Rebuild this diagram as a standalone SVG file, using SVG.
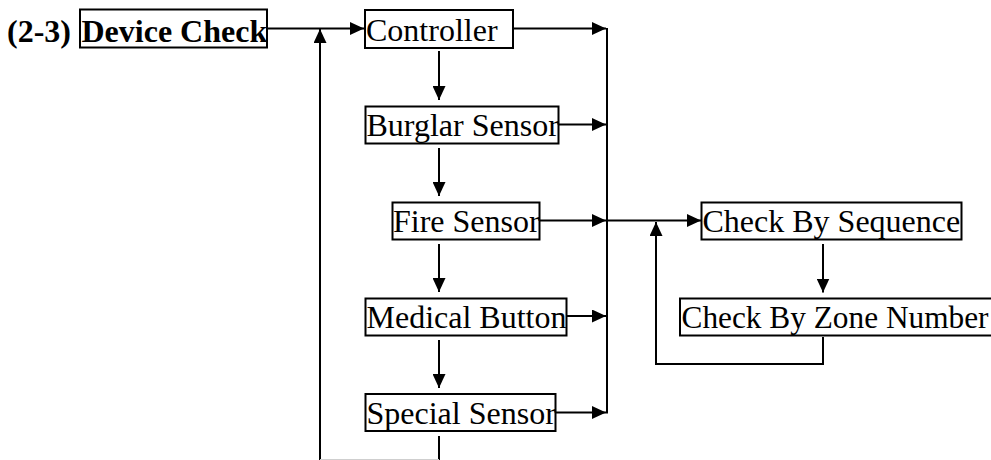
<svg xmlns="http://www.w3.org/2000/svg" width="991" height="460" viewBox="0 0 991 460">
<style>
.box{fill:#fff;stroke:#000;stroke-width:2}
.t{font-family:"Liberation Serif","Times New Roman",serif;font-size:32px;fill:#000}
.b{font-weight:bold}
.c{fill:none;stroke:#000;stroke-width:2}
</style>
<defs>
<marker id="ah" markerUnits="userSpaceOnUse" markerWidth="14" markerHeight="13" refX="14" refY="6.5" orient="auto" viewBox="0 0 14 13">
<path d="M0,0 L14,6.5 L0,13 z" fill="#000"/>
</marker>
</defs>
<rect width="991" height="460" fill="#fff"/>
<g id="connectors">
<line class="c" x1="267" y1="28.5" x2="364" y2="28.5" marker-end="url(#ah)"/>
<line class="c" x1="320" y1="460" x2="320" y2="29" marker-end="url(#ah)"/>
<line class="c" x1="513" y1="28.5" x2="606" y2="28.5" marker-end="url(#ah)"/>
<line class="c" x1="607" y1="28" x2="607" y2="413.5"/>
<line class="c" x1="559" y1="124.5" x2="606" y2="124.5" marker-end="url(#ah)"/>
<line class="c" x1="540" y1="220.5" x2="606" y2="220.5" marker-end="url(#ah)"/>
<line class="c" x1="567" y1="316" x2="606" y2="316" marker-end="url(#ah)"/>
<line class="c" x1="556" y1="412.5" x2="606" y2="412.5" marker-end="url(#ah)"/>
<line class="c" x1="607" y1="220.5" x2="701" y2="220.5" marker-end="url(#ah)"/>
<line class="c" x1="439" y1="51" x2="439" y2="100" marker-end="url(#ah)"/>
<line class="c" x1="439" y1="148" x2="439" y2="196" marker-end="url(#ah)"/>
<line class="c" x1="439" y1="244" x2="439" y2="292" marker-end="url(#ah)"/>
<line class="c" x1="439" y1="340" x2="439" y2="388" marker-end="url(#ah)"/>
<line class="c" x1="439" y1="436" x2="439" y2="460"/>
<line x1="320" y1="459.5" x2="439" y2="459.5" stroke="#cfcfcf" stroke-width="1"/>
<line class="c" x1="823" y1="244" x2="823" y2="292.5" marker-end="url(#ah)"/>
<polyline class="c" points="823,337 823,364 656,364 656,222"/>
<line class="c" x1="656" y1="236" x2="656" y2="222" marker-end="url(#ah)"/>
</g>
<g id="title">
<text class="t b" x="7" y="41.5">(2-3)</text>
</g>
<g id="device-check">
<rect class="box" x="80" y="9.5" width="187" height="38"/>
<text class="t b" x="81.5" y="41.5">Device Check</text>
</g>
<g id="controller">
<rect class="box" x="365" y="10" width="148" height="38"/>
<text class="t" x="366" y="41">Controller</text>
</g>
<g id="burglar-sensor">
<rect class="box" x="365.5" y="106.5" width="193" height="37"/>
<text class="t" x="366.5" y="136">Burglar Sensor</text>
</g>
<g id="fire-sensor">
<rect class="box" x="392.5" y="202.5" width="147" height="37"/>
<text class="t" x="393" y="232">Fire Sensor</text>
</g>
<g id="medical-button">
<rect class="box" x="365.5" y="298.5" width="201" height="37"/>
<text class="t" x="366.5" y="328">Medical Button</text>
</g>
<g id="special-sensor">
<rect class="box" x="365.5" y="394" width="190" height="37"/>
<text class="t" x="366.5" y="424">Special Sensor</text>
</g>
<g id="check-by-sequence">
<rect class="box" x="701.5" y="202.5" width="260" height="37"/>
<text class="t" x="702.5" y="232">Check By Sequence</text>
</g>
<g id="check-by-zone-number">
<rect class="box" x="680" y="298.5" width="330" height="37"/>
<text class="t" x="681.5" y="328" textLength="307" lengthAdjust="spacingAndGlyphs">Check By Zone Number</text>
</g>
</svg>
